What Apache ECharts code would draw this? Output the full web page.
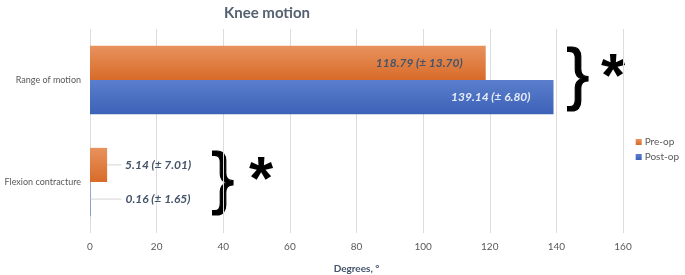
<!DOCTYPE html>
<html><head><meta charset="utf-8">
<script src="https://cdn.jsdelivr.net/npm/echarts@6/dist/echarts.min.js"></script>
<style>html,body{margin:0;padding:0;background:#fff}#c{width:685px;height:275px}</style>
</head><body><div id="c"></div>
<script>
const categories = ['Range of motion', 'Flexion contracture'];
const preOp = [118.79, 5.14];
const postOp = [139.14, 0.16];
const preSD = [13.70, 7.01];
const postSD = [6.80, 1.65];
const xTicks = [0, 20, 40, 60, 80, 100, 120, 140, 160];

const FONT = 'Lato';
const chart = echarts.init(document.getElementById('c'));
function grad(top, bot) {
  return new echarts.graphic.LinearGradient(0, 0, 0, 1, [{offset: 0, color: top}, {offset: 1, color: bot}]);
}
const rich = {
  t: {fontFamily: FONT, fontSize: 12, fontWeight: 'bold', fontStyle: 'italic', color: '#44546A'},
  l1: {width: 14, height: 1, backgroundColor: '#d4d4d4'},
  l2: {width: 31, height: 1, backgroundColor: '#d4d4d4'},
  g: {width: 4}
};
function makeData(vals, sds, insideColor, lineKey) {
  return vals.map((v, i) => {
    const text = v.toFixed(2) + ' (± ' + sds[i].toFixed(2) + ')';
    if (i === 0) {
      return {value: v, label: {show: true, position: 'insideRight', offset: [-18, 0], formatter: text,
        fontFamily: FONT, fontSize: 12, fontWeight: 'bold', fontStyle: 'italic', color: insideColor}};
    }
    return {value: v, label: {show: true, position: 'right', distance: 0,
      formatter: '{' + lineKey + '|}{g|}{t|' + text + '}', rich: rich}};
  });
}
chart.setOption({
  animation: false,
  title: {text: 'Knee motion', left: 262, top: 1, textAlign: 'center',
    textStyle: {fontFamily: FONT, fontSize: 15, fontWeight: 'bold', color: '#556070'}},
  legend: {orient: 'vertical', right: 1, top: 132, itemWidth: 6, itemHeight: 6, itemGap: 5,
    icon: 'rect', textStyle: {fontFamily: FONT, fontSize: 10, color: '#595959', padding: [0, 0, 0, -2]},
    data: ['Pre-op', 'Post-op']},
  grid: {left: 90, right: 62, top: 29, bottom: 42, outerBoundsMode: 'none', containLabel: false},
  xAxis: {type: 'value', min: 0, max: 160, interval: 20,
    name: 'Degrees, °', nameLocation: 'middle', nameGap: 31,
    nameTextStyle: {fontFamily: FONT, fontSize: 10, fontWeight: 'bold', color: '#44546A'},
    axisLabel: {fontFamily: FONT, fontSize: 10, color: '#595959', margin: 9,
      formatter: v => xTicks.includes(v) ? String(v) : ''},
    splitLine: {lineStyle: {color: '#dcdcdc'}},
    axisLine: {show: false}, axisTick: {show: false}},
  yAxis: {type: 'category', data: categories, inverse: true,
    axisLabel: {fontFamily: FONT, fontSize: 9, color: '#595959', margin: 9},
    axisLine: {show: false}, axisTick: {show: false}},
  series: [
    {name: 'Pre-op', type: 'bar', barCategoryGap: '33%', barGap: '0%',
      itemStyle: {color: grad('#e8925e', '#d86b28')},
      data: makeData(preOp, preSD, '#44546A', 'l1')},
    {name: 'Post-op', type: 'bar', barCategoryGap: '33%', barGap: '0%',
      itemStyle: {color: grad('#5b7fcc', '#3c62b8')},
      data: makeData(postOp, postSD, '#e6ebf5', 'l2')}
  ],
  graphic: [
    {type: 'text', left: 566, top: 44, style: {text: '}', fontFamily: 'Liberation Sans', fontSize: 68, fill: '#000', stroke: '#000', lineWidth: 1.2}},
    {type: 'text', left: 601, top: 48, style: {text: '*', fontFamily: 'Liberation Sans', fontSize: 62, fontWeight: 'bold', fill: '#000'}},
    {type: 'text', left: 211, top: 148, style: {text: '}', fontFamily: 'Liberation Sans', fontSize: 68, fill: '#000', stroke: '#000', lineWidth: 1.2}},
    {type: 'text', left: 249, top: 151, style: {text: '*', fontFamily: 'Liberation Sans', fontSize: 62, fontWeight: 'bold', fill: '#000'}}
  ]
});
</script></body></html>
